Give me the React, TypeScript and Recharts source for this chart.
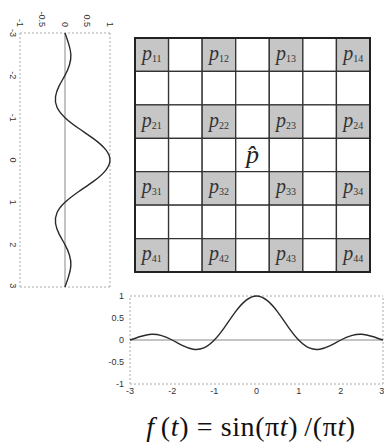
import React from "react";
import {
  LineChart,
  Line,
  XAxis,
  YAxis,
  ReferenceLine,
  ReferenceArea,
  ScatterChart,
  Scatter,
} from "recharts";

// sinc curve
const tValues = [-3, -2.75, -2.5, -2.25, -2, -1.75, -1.5, -1.25, -1, -0.75, -0.5, -0.25, 0, 0.25, 0.5, 0.75, 1, 1.25, 1.5, 1.75, 2, 2.25, 2.5, 2.75, 3];
const fValues = [0, 0.08, 0.13, 0.1, 0, -0.13, -0.21, -0.18, 0, 0.3, 0.64, 0.9, 1, 0.9, 0.64, 0.3, 0, -0.18, -0.21, -0.13, 0, 0.1, 0.13, 0.08, 0];
const tTicks = [-3, -2, -1, 0, 1, 2, 3];
const fTicks = [-1, -0.5, 0, 0.5, 1];

// 7x7 grid, samples on even rows / cols
const gridCount = 7;
const sampleRows = [0, 2, 4, 6];
const sampleCols = [0, 2, 4, 6];
const sampleNames = [
  ["11", "12", "13", "14"],
  ["21", "22", "23", "24"],
  ["31", "32", "33", "34"],
  ["41", "42", "43", "44"],
];
const centerCell = { row: 3, col: 3 };

const sincData = tValues.map((t, i) => ({ t, f: fValues[i] }));

const cells: { row: number; col: number; shaded: boolean }[] = [];
for (let r = 0; r < gridCount; r++) {
  for (let c = 0; c < gridCount; c++) {
    cells.push({ row: r, col: c, shaded: sampleRows.includes(r) && sampleCols.includes(c) });
  }
}

const labelData: { x: number; y: number; sub: string; hat?: boolean }[] = [];
sampleRows.forEach((r, i) =>
  sampleCols.forEach((c, j) => labelData.push({ x: c + 0.5, y: r + 0.5, sub: sampleNames[i][j] }))
);
labelData.push({ x: centerCell.col + 0.5, y: centerCell.row + 0.5, sub: "", hat: true });

const serif = "Liberation Serif, DejaVu Serif, serif";
const sans = "Liberation Sans, Arial, sans-serif";

function SincChart({ width, height }: { width: number; height: number }) {
  return (
    <LineChart width={width} height={height} data={sincData} margin={{ top: 14, right: 1, left: 0, bottom: 0 }}>
      <XAxis
        dataKey="t"
        type="number"
        domain={[-3, 3]}
        ticks={tTicks}
        axisLine={false}
        tickLine={false}
        tickSize={2}
        height={20}
        tick={{ fontSize: 9, fill: "#333", fontFamily: sans }}
      />
      <YAxis
        type="number"
        domain={[-1, 1]}
        ticks={fTicks}
        axisLine={false}
        tickLine={false}
        tickSize={4}
        width={30}
        tick={{ fontSize: 9, fill: "#333", fontFamily: sans }}
      />
      <ReferenceLine y={1} stroke="#aaa" strokeDasharray="2 2" />
      <ReferenceLine y={-1} stroke="#aaa" strokeDasharray="2 2" />
      <ReferenceLine x={-3} stroke="#aaa" strokeDasharray="2 2" />
      <ReferenceLine x={3} stroke="#aaa" strokeDasharray="2 2" />
      <ReferenceLine y={0} stroke="#888" />
      <Line type="natural" dataKey="f" stroke="#2a2a2a" strokeWidth={1.4} dot={false} isAnimationActive={false} />
    </LineChart>
  );
}

function CellLabel(props: any) {
  const { cx, cy, payload } = props;
  if (payload.hat) {
    return (
      <text x={cx} y={cy + 8} textAnchor="middle" style={{ fontFamily: serif, fontStyle: "italic", fontSize: 26 }} fill="#222">
        p̂
      </text>
    );
  }
  return (
    <text x={cx} y={cy + 5} textAnchor="middle" style={{ fontFamily: serif }} fill="#333">
      <tspan style={{ fontStyle: "italic", fontSize: 20 }}>p</tspan>
      <tspan style={{ fontSize: 10 }} dy={2}>{payload.sub}</tspan>
    </text>
  );
}

function SampleGrid() {
  return (
    <ScatterChart width={237} height={236} margin={{ top: 1, right: 1, bottom: 1, left: 1 }}>
      <XAxis type="number" dataKey="x" domain={[0, gridCount]} hide />
      <YAxis type="number" dataKey="y" domain={[0, gridCount]} reversed hide />
      {cells.map((c) => (
        <ReferenceArea
          key={`${c.row}-${c.col}`}
          x1={c.col}
          x2={c.col + 1}
          y1={c.row}
          y2={c.row + 1}
          fill={c.shaded ? "#c6c6c6" : "#fff"}
          fillOpacity={1}
          stroke="#333"
          strokeWidth={1.3}
        />
      ))}
      <ReferenceArea x1={0} x2={gridCount} y1={0} y2={gridCount} fill="none" stroke="#222" strokeWidth={2} />
      <Scatter data={labelData} shape={CellLabel} isAnimationActive={false} />
    </ScatterChart>
  );
}

export default function App() {
  return (
    <div style={{ position: "absolute", left: 0, top: 0, width: 384, height: 445, background: "#fff", overflow: "hidden" }}>
      <div style={{ position: "absolute", left: 0, top: 0, transformOrigin: "0 0", transform: "translate(124px, 3px) rotate(90deg)" }}>
        <SincChart width={285} height={124} />
      </div>
      <div style={{ position: "absolute", left: 134, top: 37 }}>
        <SampleGrid />
      </div>
      <div style={{ position: "absolute", left: 100, top: 282 }}>
        <SincChart width={284} height={122} />
      </div>
      <div
        style={{
          position: "absolute",
          left: 91,
          top: 411,
          width: 320,
          textAlign: "center",
          fontFamily: serif,
          fontSize: 28,
          letterSpacing: 0.6,
          color: "#111",
          whiteSpace: "nowrap",
        }}
      >
        <i>f</i>&thinsp;(<i>t</i>) = sin(π<i>t</i>)&thinsp;/(π<i>t</i>)
      </div>
    </div>
  );
}
